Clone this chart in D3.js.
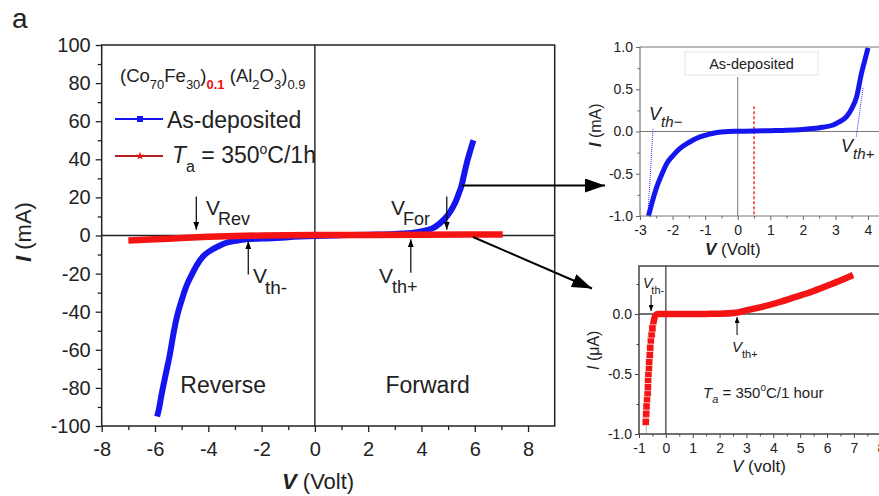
<!DOCTYPE html>
<html><head><meta charset="utf-8">
<script src="https://cdn.jsdelivr.net/npm/d3@7"></script>
<style>
body{margin:0;background:#fff;}
svg{display:block;font-family:"Liberation Sans",Arial,sans-serif;}
text{fill:#222;}
</style></head>
<body><svg id="c" width="879" height="496"></svg>
<script>
// ---------- DATA ----------
// Main panel (V in volt, I in mA)
const mainXTicks = [-8,-6,-4,-2,0,2,4,6,8];
const mainYTicks = [-100,-80,-60,-40,-20,0,20,40,60,80,100];
const asDeposited = [[-5.92,-95],[-5.85,-91],[-5.76,-84],[-5.6,-73],[-5.45,-63],[-5.3,-51],[-5.2,-44],[-5.0,-34],[-4.82,-26.5],[-4.6,-20],[-4.45,-16],[-4.2,-11],[-3.95,-8.2],[-3.6,-5.5],[-3.32,-3.8],[-2.9,-2.6],[-2.57,-2],[-2.0,-1.6],[-1.58,-1.4],[-1.0,-0.9],[0,-0.3],[1,0.1],[2,0.4],[3,0.8],[3.5,1.2],[3.82,1.7],[4.2,2.8],[4.45,4],[4.7,6.5],[4.95,10],[5.1,13],[5.26,17],[5.4,22],[5.5,26],[5.6,32],[5.7,38],[5.82,44],[5.95,50]];
const annealed = [[-7,-2.6],[-6,-2],[-5,-1.3],[-4,-0.7],[-3,-0.3],[-2,0],[0,0.2],[2,0.3],[4,0.4],[6,0.5],[7.05,0.5]];
// Inset 1: as-deposited (mA)
const in1XTicks = [-3,-2,-1,0,1,2,3,4];
const in1YTicks = [-1.0,-0.5,0.0,0.5,1.0];
const in1Curve = [[-2.74,-1.0],[-2.6,-0.8],[-2.48,-0.65],[-2.3,-0.48],[-2.18,-0.38],[-2.0,-0.29],[-1.77,-0.2],[-1.5,-0.13],[-1.26,-0.08],[-1.0,-0.045],[-0.75,-0.02],[-0.5,-0.006],[-0.28,0],[0,0.002],[0.5,0.005],[1,0.01],[1.5,0.015],[2,0.025],[2.32,0.035],[2.6,0.05],[2.93,0.077],[3.1,0.11],[3.34,0.175],[3.5,0.27],[3.65,0.41],[3.8,0.69],[3.9,0.84],[4.0,0.99]];
const in1TangentL = [[-2.76,-1.0],[-2.6,0.04]];
const in1TangentR = [[3.64,-0.06],[3.85,0.53]];
const in1Dashed = [[0.5,0.3],[0.5,-1.0]];
// Inset 2: annealed (uA)
const in2XTicks = [-1,0,1,2,3,4,5,6,7,8];
const in2YTicks = [-1.0,-0.5,0.0];
const in2Curve = [[-0.75,-0.9],[-0.73,-0.83],[-0.72,-0.77],[-0.7,-0.71],[-0.68,-0.66],[-0.67,-0.61],[-0.66,-0.55],[-0.65,-0.5],[-0.63,-0.45],[-0.62,-0.4],[-0.6,-0.34],[-0.58,-0.28],[-0.56,-0.22],[-0.53,-0.17],[-0.5,-0.12],[-0.46,-0.07],[-0.42,-0.03],[-0.38,-0.01],[-0.3,0],[0,0],[0.5,0],[1,0.0],[1.5,0.001],[2,0.002],[2.6,0.01],[2.98,0.03],[3.5,0.055],[4.24,0.10],[4.8,0.14],[5.48,0.19],[6,0.235],[6.5,0.28],[6.97,0.325]];

// ---------- SETUP ----------
const svg = d3.select('#c');
const defs = svg.append('defs');
function mk(id, L, W){
  defs.append('marker').attr('id',id).attr('markerUnits','userSpaceOnUse')
    .attr('viewBox',`0 ${-W} ${L} ${2*W}`).attr('refX',L).attr('refY',0)
    .attr('markerWidth',L).attr('markerHeight',2*W).attr('orient','auto')
    .append('path').attr('d',`M0,${-W}L${L},0L0,${W}Z`).attr('fill','#000');
}
mk('big',20,7); mk('small',8,3); mk('tiny',6,2.5);

function rich(g,x,y,parts,opt){
  opt=opt||{};
  const t=g.append('text').attr('x',x).attr('y',y).attr('font-size',opt.size||20)
    .attr('text-anchor',opt.anchor||'start');
  if(opt.rot) t.attr('transform',`rotate(-90,${x},${y})`);
  let cur=0;
  parts.forEach(p=>{
    const s=t.append('tspan').text(p.t);
    const o=p.o||0; if(o-cur) s.attr('dy',o-cur); cur=o;
    if(p.s) s.attr('font-size',p.s);
    if(p.i) s.attr('font-style','italic');
    if(p.b) s.attr('font-weight','bold');
    if(p.f) s.style('fill',p.f);
    if(p.dx) s.attr('dx',p.dx);
  });
  return t;
}
function ticksAxis(g, axis, scale, vals, minor, size, minorSize, pad, fs, color){
  const a = axis(scale).tickValues(vals).tickSize(size).tickPadding(pad).tickFormat(opt=>opt);
  return a;
}

// ---------- MAIN ----------
const xM = d3.scaleLinear([-8,9],[101.7,554.7]);
const yM = d3.scaleLinear([-100,100],[426,45]);
const gM = svg.append('g');

rich(gM,12,28,[{t:'a'}],{size:28});

// zero lines
gM.append('line').attr('x1',xM(-8)).attr('x2',xM(9)).attr('y1',yM(0)).attr('y2',yM(0)).attr('stroke','#222').attr('stroke-width',1.4);
gM.append('line').attr('x1',xM(0)).attr('x2',xM(0)).attr('y1',yM(-100)).attr('y2',yM(100)).attr('stroke','#222').attr('stroke-width',1.4);

const line = (sx,sy,curve)=>d3.line().x(d=>sx(d[0])).y(d=>sy(d[1])).curve(curve||d3.curveMonotoneX);

gM.append('path').datum(asDeposited).attr('d',line(xM,yM)).attr('fill','none').attr('stroke','#1515f0').attr('stroke-width',6).attr('stroke-linejoin','round');
gM.append('path').datum(annealed).attr('d',line(xM,yM)).attr('fill','none').attr('stroke','#f51414').attr('stroke-width',6.5);

// axes
const xAx = gM.append('g').attr('transform',`translate(0,${yM(-100)})`)
  .call(d3.axisBottom(xM).tickValues(mainXTicks).tickSize(6).tickPadding(10).tickFormat(d3.format('d')));
const xAxMinor = gM.append('g').attr('transform',`translate(0,${yM(-100)})`)
  .call(d3.axisBottom(xM).tickValues(d3.range(-7,9,2)).tickSize(4).tickFormat(''));
const yAx = gM.append('g').attr('transform',`translate(${xM(-8)},0)`)
  .call(d3.axisLeft(yM).tickValues(mainYTicks).tickSize(6).tickPadding(5).tickFormat(d3.format('d')));
const yAxMinor = gM.append('g').attr('transform',`translate(${xM(-8)},0)`)
  .call(d3.axisLeft(yM).tickValues(d3.range(-90,100,20)).tickSize(4).tickFormat(''));
[xAx,xAxMinor,yAx,yAxMinor].forEach(a=>{a.select('.domain').remove();a.selectAll('line').attr('stroke','#222').attr('stroke-width',1.3);a.selectAll('text').attr('font-size',20).style('fill','#222').attr('font-family','Liberation Sans, Arial');});
xAx.selectAll('text').text(d=>d<0?'-'+Math.abs(d):d);
yAx.selectAll('text').text(d=>d<0?'-'+Math.abs(d):d);

gM.append('rect').attr('x',xM(-8)).attr('y',yM(100)).attr('width',xM(9)-xM(-8)).attr('height',yM(-100)-yM(100)).attr('fill','none').attr('stroke','#222').attr('stroke-width',1.5);

// axis titles
rich(gM,282,489,[{t:'V',b:1,i:1},{t:' (Volt)'}],{size:22});
rich(gM,31,262,[{t:'I',b:1,i:1},{t:' (mA)'}],{size:22,rot:1});

// legend
rich(gM,120,82,[{t:'(Co'},{t:'70',s:13,o:7},{t:'Fe',o:0},{t:'30',s:13,o:7},{t:')',o:0},{t:'0.1',s:13,o:7,b:1,f:'#f01010'},{t:' (Al',o:0},{t:'2',s:13,o:7},{t:'O',o:0},{t:'3',s:13,o:7},{t:')',o:0},{t:'0.9',s:13,o:7}],{size:18.5});
gM.append('line').attr('x1',115).attr('x2',163).attr('y1',119).attr('y2',119).attr('stroke','#1515f0').attr('stroke-width',2);
gM.append('rect').attr('x',137).attr('y',116).attr('width',6).attr('height',6).attr('fill','#1515f0');
rich(gM,167,128,[{t:'As-deposited'}],{size:23});
gM.append('line').attr('x1',115).attr('x2',163).attr('y1',156).attr('y2',156).attr('stroke','#b02020').attr('stroke-width',2);
gM.append('path').attr('d',d3.symbol(d3.symbolStar,22)()).attr('transform','translate(140,156)').attr('fill','#f01010');
rich(gM,172,163,[{t:'T',i:1},{t:'a',s:16,o:9},{t:' = 350',o:0},{t:'o',s:14,o:-9},{t:'C/1h',o:0}],{size:23});

// region labels
rich(gM,xM(-5.05),393,[{t:'Reverse'}],{size:23});
rich(gM,xM(2.65),393,[{t:'Forward'}],{size:23});

// annotations
function vArrow(x,y1,y2){gM.append('line').attr('x1',x).attr('x2',x).attr('y1',y1).attr('y2',y2).attr('stroke','#000').attr('stroke-width',1.2).attr('marker-end','url(#small)');}
vArrow(xM(-4.45),yM(20.5),yM(3));
vArrow(xM(-2.5),yM(-20.5),yM(-3));
vArrow(xM(4.95),yM(20.5),yM(3));
vArrow(xM(3.6),yM(-19.5),yM(-2));
rich(gM,206,215,[{t:'V'},{t:'Rev',s:18,o:10,dx:-2}],{size:21});
rich(gM,253,283,[{t:'V'},{t:'th-',s:19,o:11,dx:-2}],{size:21});
rich(gM,391,215,[{t:'V'},{t:'For',s:18,o:10,dx:-2}],{size:21});
rich(gM,379,283,[{t:'V'},{t:'th+',s:18,o:10,dx:-1}],{size:21});

// connectors to insets
svg.append('line').attr('x1',xM(5.52)).attr('y1',185.5).attr('x2',605).attr('y2',185.5).attr('stroke','#000').attr('stroke-width',2).attr('marker-end','url(#big)');
svg.append('line').attr('x1',473).attr('y1',237).attr('x2',592).attr('y2',288.5).attr('stroke','#000').attr('stroke-width',2).attr('marker-end','url(#big)');

// ---------- INSET 1 ----------
const x1 = d3.scaleLinear([-3,4.5],[640,884.3]);
const y1 = d3.scaleLinear([-1,1],[216,47]);
const g1 = svg.append('g');
g1.append('line').attr('x1',x1(-3)).attr('x2',x1(4.5)).attr('y1',y1(0)).attr('y2',y1(0)).attr('stroke','#777').attr('stroke-width',1);
g1.append('line').attr('x1',x1(0)).attr('x2',x1(0)).attr('y1',77).attr('y2',y1(-1)).attr('stroke','#777').attr('stroke-width',1);
g1.append('rect').attr('x',685).attr('y',52).attr('width',133).attr('height',23).attr('fill','#fff').attr('stroke','#e4e4e4').attr('stroke-width',1);
rich(g1,751.5,69,[{t:'As-deposited'}],{size:14.5,anchor:'middle'});
g1.append('path').datum(in1Dashed).attr('d',line(x1,y1,d3.curveLinear)).attr('stroke','#f01010').attr('stroke-width',1.3).attr('stroke-dasharray','3,2').attr('fill','none');
g1.append('path').datum(in1Curve).attr('d',line(x1,y1)).attr('fill','none').attr('stroke','#1515f0').attr('stroke-width',5);
[in1TangentL,in1TangentR].forEach(t=>g1.append('path').datum(t).attr('d',line(x1,y1,d3.curveLinear)).attr('stroke','#3030ff').attr('stroke-width',1).attr('stroke-dasharray','1,1').attr('fill','none'));
const a1x = g1.append('g').attr('transform',`translate(0,${y1(-1)})`).call(d3.axisBottom(x1).tickValues(in1XTicks).tickSize(4).tickPadding(5).tickFormat(d=>d<0?'-'+Math.abs(d):d));
const a1xm = g1.append('g').attr('transform',`translate(0,${y1(-1)})`).call(d3.axisBottom(x1).tickValues(d3.range(-2.5,4.5,1)).tickSize(2.5).tickFormat(''));
const a1y = g1.append('g').attr('transform',`translate(${x1(-3)},0)`).call(d3.axisLeft(y1).tickValues(in1YTicks).tickSize(4).tickPadding(3).tickFormat(d=>d<0?'-'+Math.abs(d).toFixed(1):d.toFixed(1)));
const a1ym = g1.append('g').attr('transform',`translate(${x1(-3)},0)`).call(d3.axisLeft(y1).tickValues(d3.range(-0.75,1,0.5)).tickSize(2.5).tickFormat(''));
[a1x,a1xm,a1y,a1ym].forEach(a=>{a.select('.domain').remove();a.selectAll('line').attr('stroke','#666');a.selectAll('text').attr('font-size',14).style('fill','#222').attr('font-family','Liberation Sans, Arial');});
g1.append('path').attr('d',`M${x1(4.5)},${y1(1)}H${x1(-3)}V${y1(-1)}H${x1(4.5)}`).attr('fill','none').attr('stroke','#777').attr('stroke-width',1.2);
rich(g1,705,255,[{t:'V',b:1,i:1},{t:' (Volt)'}],{size:17});
rich(g1,601,147,[{t:'I',b:1,i:1},{t:' (mA)'}],{size:16,rot:1});
rich(g1,649,120,[{t:'V',i:1},{t:'th\u2212',s:15,i:1,o:7}],{size:18});
rich(g1,841,152,[{t:'V',i:1},{t:'th+',s:15,i:1,o:7}],{size:18});

// ---------- INSET 2 ----------
const x2 = d3.scaleLinear([-1,8.5],[639,894.2]);
const y2 = d3.scaleLinear([-1,0.4],[434,266]);
const g2 = svg.append('g');
g2.append('line').attr('x1',x2(-1)).attr('x2',x2(8.5)).attr('y1',y2(0)).attr('y2',y2(0)).attr('stroke','#444').attr('stroke-width',1.3);
g2.append('line').attr('x1',x2(0)).attr('x2',x2(0)).attr('y1',y2(0.4)).attr('y2',y2(-1)).attr('stroke','#444').attr('stroke-width',1.3);
g2.append('line').attr('x1',x2(-0.73)).attr('x2',x2(-0.73)).attr('y1',y2(-0.9)).attr('y2',y2(-1)).attr('stroke','#bbb').attr('stroke-width',1);
g2.append('path').datum(in2Curve).attr('d',line(x2,y2)).attr('fill','none').attr('stroke','#f51414').attr('stroke-width',6.5).attr('stroke-linejoin','round');
g2.selectAll('rect.m').data(in2Curve.filter(d=>d[1]<-0.1)).join('rect').attr('class','m')
  .attr('x',d=>x2(d[0])-3.6).attr('y',d=>y2(d[1])-3.6).attr('width',7.2).attr('height',7.2)
  .attr('fill','#f51414').attr('stroke','#fff').attr('stroke-width',0.6);
const a2x = g2.append('g').attr('transform',`translate(0,${y2(-1)})`).call(d3.axisBottom(x2).tickValues(in2XTicks).tickSize(4).tickPadding(5).tickFormat(d=>d<0?'-'+Math.abs(d):d));
const a2xm = g2.append('g').attr('transform',`translate(0,${y2(-1)})`).call(d3.axisBottom(x2).tickValues(d3.range(-0.5,8.5,1)).tickSize(2.5).tickFormat(''));
const a2y = g2.append('g').attr('transform',`translate(${x2(-1)},0)`).call(d3.axisLeft(y2).tickValues(in2YTicks).tickSize(4).tickPadding(3).tickFormat(d=>d<0?'-'+Math.abs(d).toFixed(1):d.toFixed(1)));
const a2ym = g2.append('g').attr('transform',`translate(${x2(-1)},0)`).call(d3.axisLeft(y2).tickValues([-0.75,-0.25,0.25]).tickSize(2.5).tickFormat(''));
[a2x,a2xm,a2y,a2ym].forEach(a=>{a.select('.domain').remove();a.selectAll('line').attr('stroke','#444');a.selectAll('text').attr('font-size',14).style('fill','#222').attr('font-family','Liberation Sans, Arial');});
g2.append('path').attr('d',`M${x2(8.5)},${y2(0.4)}H${x2(-1)}V${y2(-1)}H${x2(8.5)}`).attr('fill','none').attr('stroke','#444').attr('stroke-width',1.5);
rich(g2,732,472,[{t:'V',i:1},{t:' (volt)'}],{size:17});
rich(g2,599,370,[{t:'I',i:1},{t:' (\u03bcA)'}],{size:16,rot:1});
function vA2(x,ya,yb){g2.append('line').attr('x1',x).attr('x2',x).attr('y1',ya).attr('y2',yb).attr('stroke','#000').attr('stroke-width',1).attr('marker-end','url(#tiny)');}
vA2(x2(-0.55),295,311);
vA2(x2(2.65),335,317);
rich(g2,643,288,[{t:'V',i:1},{t:'th-',s:11,o:6,dx:-1}],{size:14});
rich(g2,732,352,[{t:'V',i:1},{t:'th+',s:11,o:6,dx:0}],{size:15});
rich(g2,703,398,[{t:'T',i:1},{t:'a',s:11,i:1,o:5},{t:'  = 350',o:0},{t:'o',s:10,o:-7},{t:'C/1 hour',o:0}],{size:15});
</script></body></html>
